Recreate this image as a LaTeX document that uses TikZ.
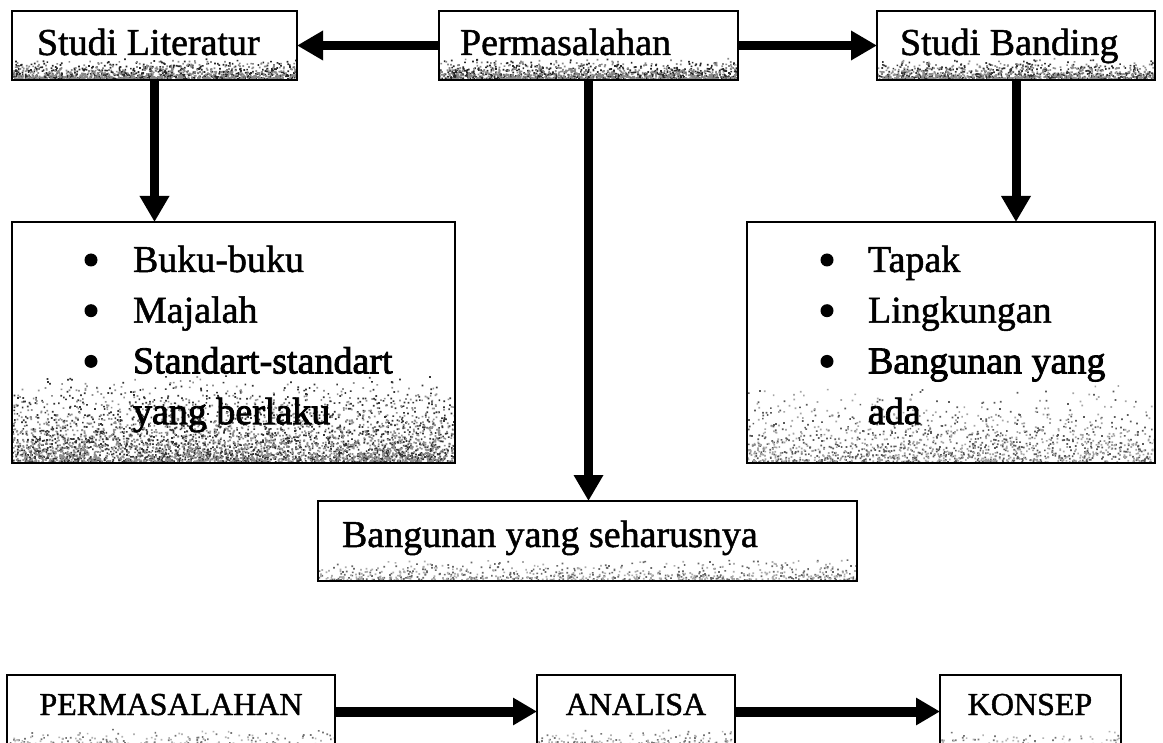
\documentclass[tikz,border=0pt]{standalone}
\usepackage{fontspec}
\setmainfont{Liberation Serif}[FakeBold=1.3]
\newfontfamily\heavy{Liberation Serif}[FakeBold=2.2]
\usetikzlibrary{arrows.meta,calc}
\begin{document}
\begin{tikzpicture}[x=1pt,y=-1pt,
  every node/.style={inner sep=0pt, outer sep=0pt},
  box/.style={draw=black, line width=2.2pt, anchor=north west},
  dot/.style={circle, fill=black, minimum size=13pt},
  speckle/.style n args={3}{path picture={
      \coordinate (sw) at (path picture bounding box.south west);
      \coordinate (se) at (path picture bounding box.south east);
      \fill[black!#3!white] \foreach \i in {1,...,#2}{
        ($(sw)!{rnd}!(se)$) ++(0,{-rnd*rnd*#1}) rectangle ++(1.7,-1.7)};
      \fill[black!#3!white!55] \foreach \i in {1,...,#2}{
        ($(sw)!{rnd}!(se)$) ++(0,{-rnd*rnd*#1}) rectangle ++(1.7,-1.7)};
      }},
  lbl/.style={font=\fontsize{38}{50.7}\selectfont, anchor=base west},
  caps/.style={font=\fontsize{32}{40}\selectfont, anchor=base},
  bigarrow/.style={line width=9pt, -{Triangle[length=26pt,width=28pt]}},
  smallarrow/.style={line width=10pt, -{Triangle[length=24pt,width=26pt]}},
]
\pgfmathsetseed{7}
\useasboundingbox (0,0) rectangle (1163,743);
\clip (0,0) rectangle (1163,743);

% top row
\node[box, minimum width=285pt, minimum height=69pt, speckle={21}{650}{85}] (lit) at (12,11) {};
\node[lbl] (litT) at (37,55) {Studi Literatur};
\node[box, minimum width=299pt, minimum height=69pt, speckle={21}{650}{85}] (perm) at (439,11) {};
\node[lbl] (permT) at (460,55) {Permasalahan};
\node[box, minimum width=278pt, minimum height=69pt, speckle={21}{550}{80}] (band) at (877,11) {};
\node[lbl] (bandT) at (900,55) {Studi Banding};

% list boxes
\node[box, minimum width=443pt, minimum height=241pt, speckle={88}{2000}{80}] (litL) at (12,222) {};
\node[dot] (litB1) at (91,260) {};
\node[dot] (litB2) at (91,310.7) {};
\node[dot] (litB3) at (91,361.4) {};
\node[lbl] (litLT) at (133,272) {\begin{tabular}[t]{@{}l@{}}
  Buku-buku\\
  Majalah\\
  {\heavy Standart-standart}\\
  {\heavy yang berlaku}
\end{tabular}};
\node[box, minimum width=408pt, minimum height=241pt, speckle={78}{750}{65}] (bandL) at (747,222) {};
\node[dot] (bandB1) at (827,260) {};
\node[dot] (bandB2) at (827,310.7) {};
\node[dot] (bandB3) at (827,361.4) {};
\node[lbl] (bandLT) at (868,272) {\begin{tabular}[t]{@{}l@{}}
  Tapak\\
  Lingkungan\\
  {\heavy Bangunan yang}\\
  {\heavy ada}
\end{tabular}};

% result box
\node[box, minimum width=539pt, minimum height=80pt, speckle={22}{380}{60}] (should) at (318,501) {};
\node[lbl] (shouldT) at (342,547) {Bangunan yang seharusnya};

% bottom row
\node[box, minimum width=328pt, minimum height=73pt, speckle={18}{160}{55}] (p2) at (7,675) {};
\node[caps] (p2T) at (171,715) {PERMASALAHAN};
\node[box, minimum width=198pt, minimum height=73pt, speckle={18}{110}{55}] (ana) at (537,675) {};
\node[caps] (anaT) at (636,715) {ANALISA};
\node[box, minimum width=181pt, minimum height=73pt, speckle={18}{60}{55}] (kon) at (940,675) {};
\node[caps] (konT) at (1030,715) {KONSEP};

% connectors
\draw[bigarrow] (perm.west) -- (lit.east);
\draw[bigarrow] (perm.east) -- (band.west);
\draw[bigarrow] (lit.south) -- (lit.south |- litL.north);
\draw[bigarrow] (band.south) -- (band.south |- bandL.north);
\draw[bigarrow] (perm.south) -- (perm.south |- should.north);
\draw[smallarrow] (p2.east) -- (ana.west);
\draw[smallarrow] (ana.east) -- (kon.west);
\end{tikzpicture}
\end{document}
